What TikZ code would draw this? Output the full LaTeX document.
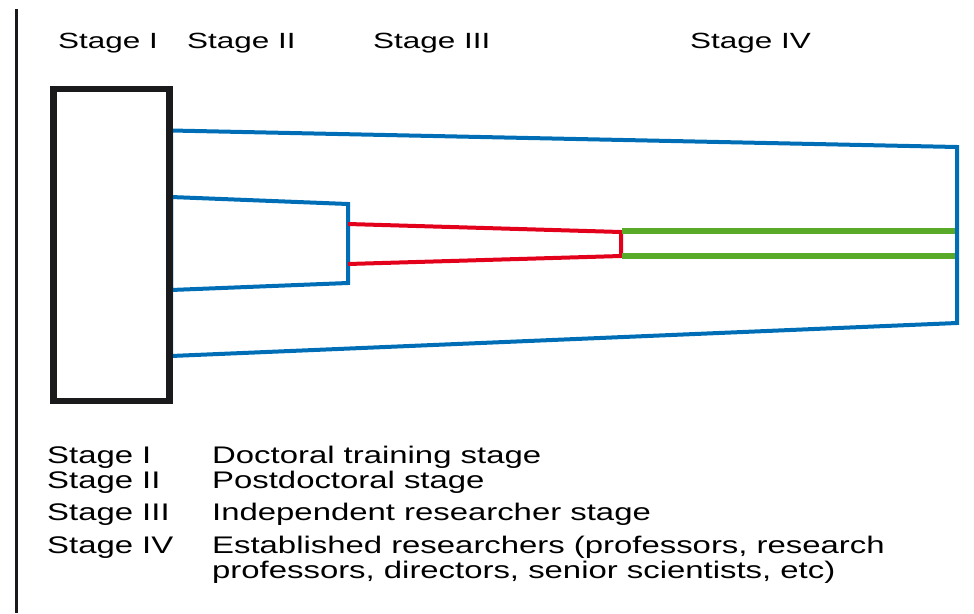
\documentclass[tikz,border=0pt]{standalone}
\usepackage{fontspec}
\setmainfont{Liberation Sans}
\usetikzlibrary{calc}
\definecolor{stageblue}{RGB}{0,110,182}
\definecolor{stagered}{RGB}{227,0,27}
\definecolor{stagegreen}{RGB}{88,170,40}
\definecolor{stageblack}{RGB}{26,26,28}
\newcommand{\headtext}[1]{\scalebox{1.43}[1]{#1}}
\newcommand{\legtext}[1]{\scalebox{1.37}[1]{#1}}
\tikzset{
	headlabel/.style={anchor=base west, inner sep=0pt, font=\fontsize{22}{26}\selectfont},
	leglabel/.style={anchor=base west, inner sep=0pt, font=\fontsize{24}{28}\selectfont}
}

\begin{document}
\begin{tikzpicture}[x=1pt, y=-1pt]
		%%%%% START %%%%%
		\useasboundingbox (0, 0) rectangle (974, 613);
		
		\draw[line width=2.7, color=stageblack] (16.3, 9) -- (16.3, 613);
		
		% stage headings
		\node[headlabel] (headI) at (58, 48) {\headtext{Stage I}};
		\node[headlabel] (headII) at (187, 48) {\headtext{Stage II}};
		\node[headlabel] (headIII) at (373, 48) {\headtext{Stage III}};
		\node[headlabel] (headIV) at (690, 48) {\headtext{Stage IV}};
		
		% outer funnel
		\draw[line width=4, color=stageblue, line join=miter] (171, 130.5) -- (957, 147) -- (957, 323) -- (171, 356) -- cycle;
		
		% inner funnel
		\draw[line width=4, color=stageblue, line join=miter] (171, 197) -- (348, 204) -- (348, 283) -- (171, 290) -- cycle;
		
		\draw[line width=4, color=stagered, line join=miter] (348, 224) -- (621, 232) -- (621, 256) -- (348, 264);
		
		\draw[line width=5.5, color=stagegreen] (622, 231) -- (955, 231);
		\draw[line width=5.5, color=stagegreen] (622, 256) -- (955, 256);
		
		\draw[line width=6.5, color=stageblack, fill=white] (53.5, 89) rectangle (169.5, 401);
		
		% legend
		\node[leglabel] (keyI) at (47, 463) {\legtext{Stage I}};
		\node[leglabel] (keyII) at (47, 488) {\legtext{Stage II}};
		\node[leglabel] (keyIII) at (47, 520) {\legtext{Stage III}};
		\node[leglabel] (keyIV) at (47, 553) {\legtext{Stage IV}};
		
		\node[leglabel] (descI) at (212, 463) {\legtext{Doctoral training stage}};
		\node[leglabel] (descII) at (212, 488) {\legtext{Postdoctoral stage}};
		\node[leglabel] (descIII) at (212, 520) {\legtext{Independent researcher stage}};
		\node[leglabel] (descIV) at (212, 553) {\legtext{Established researchers (professors, research}};
		\node[leglabel] (descIVb) at (212, 578) {\legtext{professors, directors, senior scientists, etc)}};
		
		%%%%% END %%%%%
\end{tikzpicture}
\end{document}
